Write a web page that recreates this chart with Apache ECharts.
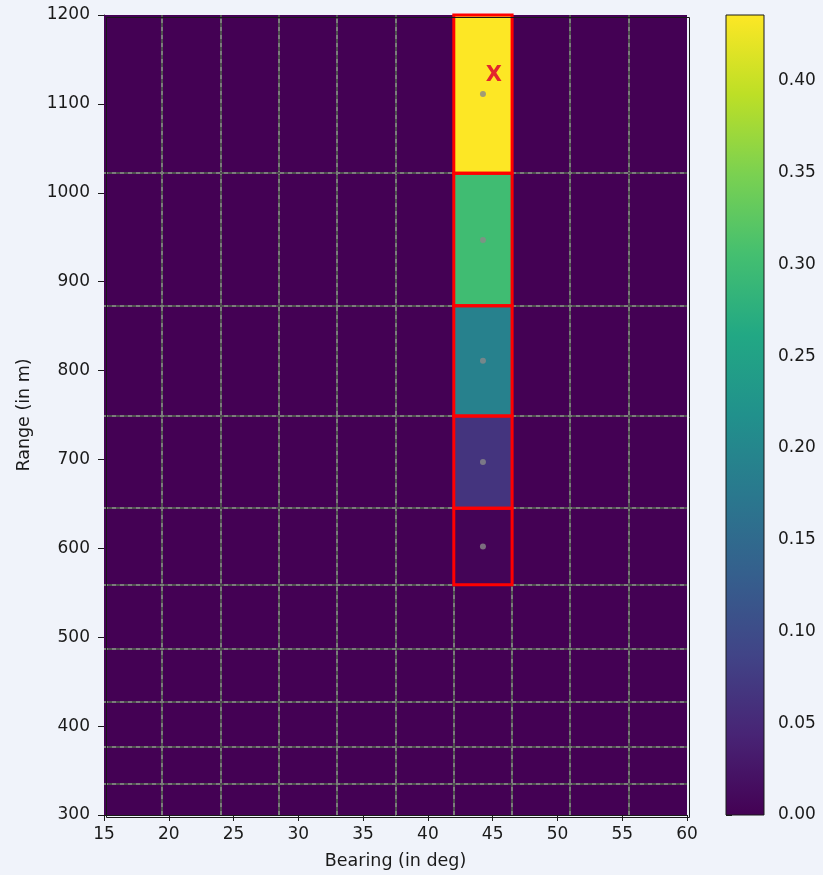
<!DOCTYPE html>
<html><head><meta charset="utf-8">
<script src="https://cdn.jsdelivr.net/npm/echarts@6/dist/echarts.min.js"></script>
<style>html,body{margin:0;padding:0;background:#f0f3fa;}#c{width:823px;height:875px;}</style>
</head><body><div id="c"></div>
<script>
// ---- data ----
const bearingEdges = [15, 19.5, 24, 28.5, 33, 37.5, 42, 46.5, 51, 55.5, 60];
const rangeEdges = [300, 335, 376, 427, 487, 559, 645, 749, 873, 1022, 1200];
// rows from bottom (300 m) to top (1200 m), columns from left (15 deg) to right (60 deg)
const cellValues = [
  [0, 0, 0, 0, 0, 0, 0, 0, 0, 0],
  [0, 0, 0, 0, 0, 0, 0, 0, 0, 0],
  [0, 0, 0, 0, 0, 0, 0, 0, 0, 0],
  [0, 0, 0, 0, 0, 0, 0, 0, 0, 0],
  [0, 0, 0, 0, 0, 0, 0, 0, 0, 0],
  [0, 0, 0, 0, 0, 0, 0.004, 0, 0, 0],
  [0, 0, 0, 0, 0, 0, 0.066, 0, 0, 0],
  [0, 0, 0, 0, 0, 0, 0.19, 0, 0, 0],
  [0, 0, 0, 0, 0, 0, 0.30, 0, 0, 0],
  [0, 0, 0, 0, 0, 0, 0.436, 0, 0, 0]
];
const highlightCells = [[6, 5], [6, 6], [6, 7], [6, 8], [6, 9]]; // [column, row]
const pointBearings = [44.25, 44.25, 44.25, 44.25, 44.25];
const pointRanges = [602, 697, 811, 947, 1111];
const markerText = 'X';
const markerBearing = 45.1;
const markerRange = 1132;
const colorbarTicks = [0, 0.05, 0.10, 0.15, 0.20, 0.25, 0.30, 0.35, 0.40];
const colorMax = 0.436;
const viridis = ['#440154', '#482475', '#414487', '#355f8d', '#2a788e', '#21918c', '#22a884', '#44bf70', '#7ad151', '#bddf26', '#fde725'];

// ---- build series data ----
const cells = [];
for (let r = 0; r < rangeEdges.length - 1; r++) {
  for (let c = 0; c < bearingEdges.length - 1; c++) {
    cells.push([bearingEdges[c], bearingEdges[c + 1], rangeEdges[r], rangeEdges[r + 1], cellValues[r][c]]);
  }
}
const edgeLines = [];
const xMin = bearingEdges[0], xMax = bearingEdges[bearingEdges.length - 1];
const yMin = rangeEdges[0], yMax = rangeEdges[rangeEdges.length - 1];
for (let i = 1; i < bearingEdges.length - 1; i++) edgeLines.push([bearingEdges[i], yMin, bearingEdges[i], yMax]);
for (let i = 1; i < rangeEdges.length - 1; i++) edgeLines.push([xMin, rangeEdges[i], xMax, rangeEdges[i]]);
const boxes = highlightCells.map(([c, r]) => [bearingEdges[c], bearingEdges[c + 1], rangeEdges[r], rangeEdges[r + 1]]);
const points = pointBearings.map((b, i) => [b, pointRanges[i]]);

function rectFrom(api) {
  const p0 = api.coord([api.value(0), api.value(3)]);
  const p1 = api.coord([api.value(1), api.value(2)]);
  return { x: p0[0], y: p0[1], width: p1[0] - p0[0], height: p1[1] - p0[1] };
}

const font = 'DejaVu Sans';
const txt = '#1a1a1a';
const chart = echarts.init(document.getElementById('c'), null, { renderer: 'canvas' });
chart.setOption({
  backgroundColor: '#f0f3fa',
  animation: false,
  grid: [
    { left: 104, top: 15, width: 583, height: 800 },
    { left: 726, top: 15, width: 38, height: 800 }
  ],
  xAxis: [
    { type: 'value', gridIndex: 0, min: 15, max: 60, interval: 5,
      name: 'Bearing (in deg)', nameLocation: 'middle', nameGap: 37,
      nameTextStyle: { color: txt, fontFamily: font, fontSize: 17.5 },
      axisLine: { show: true, onZero: false, lineStyle: { color: txt } },
      axisTick: { show: true, length: 6, lineStyle: { color: txt } },
      axisLabel: { color: txt, fontFamily: font, fontSize: 17, margin: 11 },
      splitLine: { show: false } },
    { type: 'value', gridIndex: 1, min: 0, max: 1, show: false }
  ],
  yAxis: [
    { type: 'value', gridIndex: 0, min: 300, max: 1200, interval: 100,
      name: 'Range (in m)', nameLocation: 'middle', nameGap: 71, nameRotate: 90,
      nameTextStyle: { color: txt, fontFamily: font, fontSize: 17.5 },
      axisLine: { show: true, onZero: false, lineStyle: { color: txt } },
      axisTick: { show: true, length: 6, lineStyle: { color: txt } },
      axisLabel: { color: txt, fontFamily: font, fontSize: 17, margin: 14, formatter: v => String(v) },
      splitLine: { show: false } },
    { type: 'value', gridIndex: 1, min: 0, max: colorMax, position: 'right',
      axisLine: { show: false },
      axisTick: { show: true, length: 6, customValues: colorbarTicks, lineStyle: { color: txt } },
      axisLabel: { color: txt, fontFamily: font, fontSize: 17, margin: 14, customValues: colorbarTicks,
        formatter: v => v.toFixed(2) },
      splitLine: { show: false } }
  ],
  visualMap: {
    show: false, type: 'continuous', seriesIndex: 0, dimension: 4,
    min: 0, max: colorMax, inRange: { color: viridis }
  },
  series: [
    { type: 'custom', xAxisIndex: 0, yAxisIndex: 0, data: cells, encode: { x: [0, 1], y: [2, 3] },
      renderItem: (params, api) => ({ type: 'rect', shape: rectFrom(api), style: { fill: api.visual('color') } }) },
    { type: 'custom', xAxisIndex: 0, yAxisIndex: 0, data: edgeLines, encode: { x: [0, 2], y: [1, 3] },
      renderItem: (params, api) => {
        const a = api.coord([api.value(0), api.value(1)]);
        const b = api.coord([api.value(2), api.value(3)]);
        const shape = { x1: Math.round(a[0]), y1: Math.round(a[1]), x2: Math.round(b[0]), y2: Math.round(b[1]) };
        return { type: 'group', children: [
          { type: 'line', shape, style: { stroke: '#505050', lineWidth: 2 } },
          { type: 'line', shape, style: { stroke: '#a8a8a8', lineWidth: 1, lineDash: [4, 4] } }
        ] };
      } },
    { type: 'custom', xAxisIndex: 0, yAxisIndex: 0, data: boxes, encode: { x: [0, 1], y: [2, 3] },
      renderItem: (params, api) => ({ type: 'rect', shape: rectFrom(api), style: { fill: 'none', stroke: '#ff0000', lineWidth: 3 } }) },
    { type: 'scatter', xAxisIndex: 0, yAxisIndex: 0, data: points, symbolSize: 6,
      itemStyle: { color: '#8a8a8a' }, silent: true },
    { type: 'custom', xAxisIndex: 0, yAxisIndex: 0, data: [[markerBearing, markerRange, markerText]],
      renderItem: (params, api) => {
        const p = api.coord([api.value(0), api.value(1)]);
        return { type: 'text', x: p[0], y: p[1], style: { text: markerText, fill: '#e3262d',
          font: 'bold 21px "DejaVu Sans"', align: 'center', verticalAlign: 'middle' } };
      } },
    { type: 'custom', xAxisIndex: 1, yAxisIndex: 1, data: [[0, 1, 0, colorMax]], encode: { x: [0, 1], y: [2, 3] },
      renderItem: (params, api) => ({ type: 'rect', shape: rectFrom(api), style: {
        fill: new echarts.graphic.LinearGradient(0, 1, 0, 0, viridis.map((c, i) => ({ offset: i / (viridis.length - 1), color: c }))),
        stroke: '#1a1a1a', lineWidth: 1 } }) }
  ],
  graphic: [{ type: 'rect', left: 104, top: 15, shape: { width: 583, height: 800 }, style: { fill: 'none', stroke: '#1a1a1a', lineWidth: 1 }, z: 100, silent: true }]
});
</script></body></html>
